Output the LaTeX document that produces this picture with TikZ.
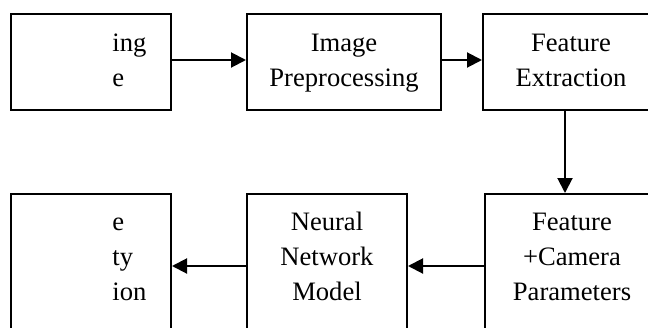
\documentclass[tikz,border=0pt]{standalone}
\usepackage{fontspec}
\setmainfont{Liberation Serif}
\usetikzlibrary{arrows.meta,positioning}

\begin{document}
\begin{tikzpicture}[x=0.5pt,y=-0.5pt,
    box/.style={draw, line width=1pt, inner sep=0pt},
    txt/.style={inner sep=0pt, anchor=base, font=\fontsize{13.3}{17.5}\selectfont},
    arr/.style={line width=1pt, -{Triangle[length=7.5pt,width=7.5pt]}}]
    % Page frame.
    \useasboundingbox (0,0) rectangle (648,327);
    \clip (0,0) rectangle (648,327);

    % Draw first row.
    \node[box, minimum width=80pt, minimum height=48pt] (b1) at (91,62) {};
    \node[box, minimum width=97pt, minimum height=48pt] (b2) at (344,62) {};
    \node[box, minimum width=88pt, minimum height=48pt] (b3) at (571,62) {};
    \node[txt, anchor=base west, align=left] (t1) at (112,86) {ing\\e};
    \node[txt, align=center] (t2) at (344,86) {Image\\Preprocessing};
    \node[txt, align=center] (t3) at (571,86) {Feature\\Extraction};

    % Draw second row.
    \node[box, minimum width=80pt, minimum height=72pt] (b4) at (91,266) {};
    \node[box, minimum width=80pt, minimum height=72pt] (b5) at (327,266) {};
    \node[box, minimum width=87pt, minimum height=72pt] (b6) at (572,266) {};
    \node[txt, anchor=base west, align=left] (t4) at (112,300) {e\\ty\\ion};
    \node[txt, align=center] (t5) at (327,300) {Neural\\Network\\Model};
    \node[txt, align=center] (t6) at (572,300) {Feature\\+Camera\\Parameters};

    % Draw arrows.
    \draw[arr] ([yshift=1pt]b1.east) -- ([yshift=1pt]b2.west);
    \draw[arr] ([yshift=1pt]b2.east) -- ([yshift=1pt]b3.west);
    \draw[arr] ([xshift=-3pt]b3.south) -- ([xshift=-3pt]b3.south |- b6.north);
    \draw[arr] (b6) -- (b5);
    \draw[arr] (b5) -- (b4);
\end{tikzpicture}
\end{document}
